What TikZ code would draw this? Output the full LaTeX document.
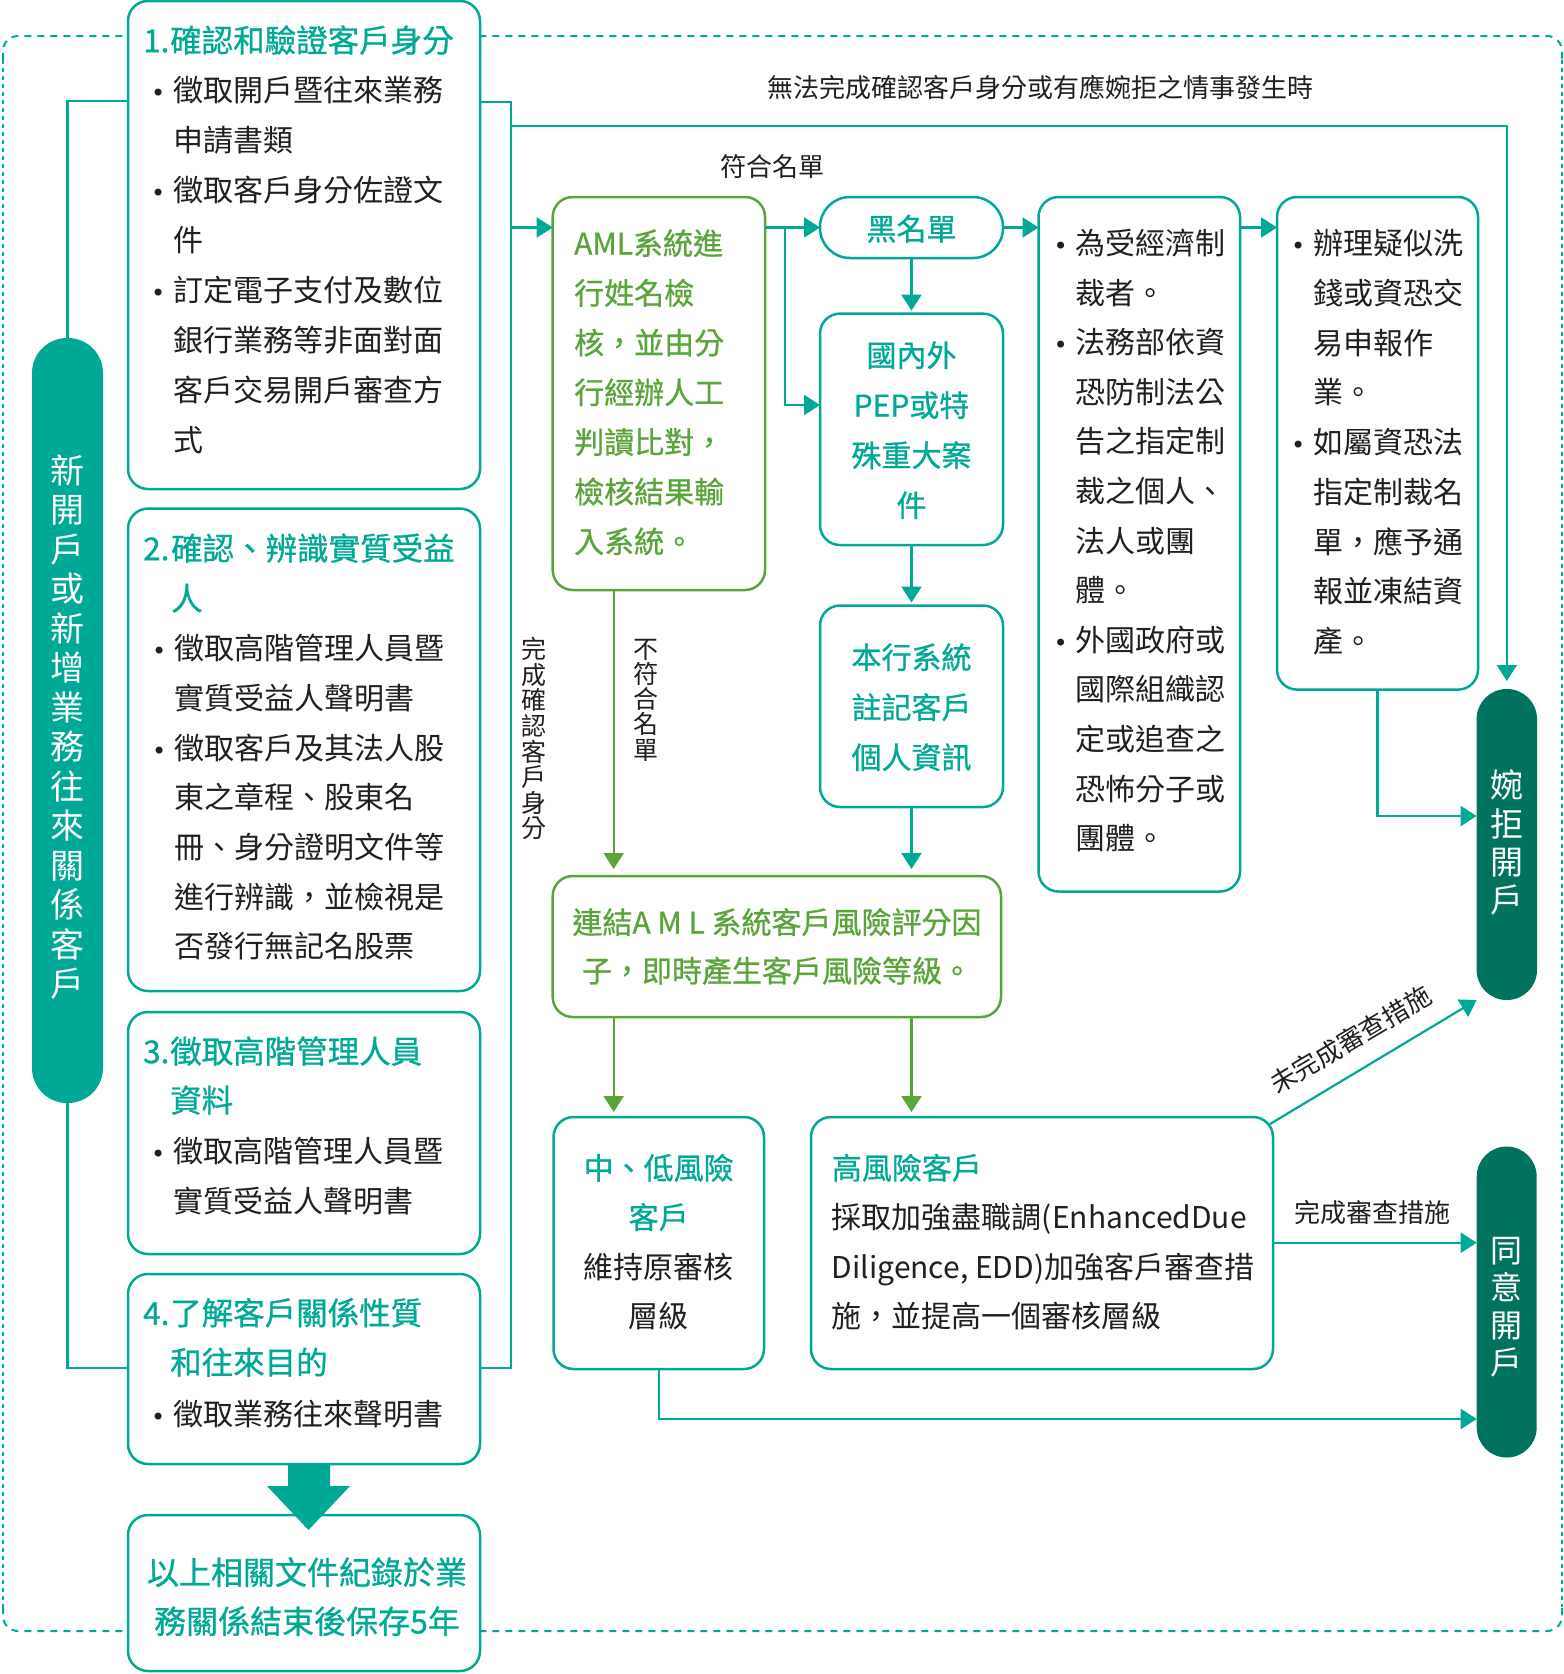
\documentclass[tikz,border=0pt]{standalone}
\usepackage{fontspec}
\setmainfont{Noto Sans CJK TC}
\newfontfamily\medfont[FakeBold=0.8]{Noto Sans CJK TC}
\newfontfamily\dv{DejaVu Sans}
\usetikzlibrary{arrows.meta,calc}
\definecolor{tl}{HTML}{00A896}
\definecolor{dk}{HTML}{00735F}
\definecolor{gr}{HTML}{5AA53B}
\definecolor{tx}{HTML}{231F20}
\newcommand{\tp}{\rule{0pt}{0.9em}}
\newcommand{\fs}[2]{\fontsize{#1}{#2}\selectfont}
\newcommand{\bl}{\llap{{\dv\fontsize{24}{24}\selectfont •}\hspace{8pt}}}
\begin{document}
\begin{tikzpicture}[x=1pt,y=-1pt,
 box/.style={draw=tl,line width=2.5pt,rounded corners=20pt,fill=white,inner sep=0pt,outer sep=0pt,anchor=north west},
 gbox/.style={box,draw=gr},
 pillbox/.style={fill=#1,draw=none,inner sep=0pt,outer sep=0pt,anchor=north west},
 ttl/.style={inner sep=0pt,anchor=north west,align=left,text=tl,font=\medfont\fs{31.5}{50}},
 body/.style={inner sep=0pt,anchor=north west,align=left,text=tx,font=\fs{30}{50}},
 ctext/.style={inner sep=0pt,anchor=north,align=center},
 lbl/.style={inner sep=0pt,text=tx,font=\fs{26}{26}},
 conn/.style={draw=tl,line width=2.2pt},
 arr/.style={conn,-{Triangle[length=16pt,width=20pt]}},
 garr/.style={draw=gr,line width=2.2pt,-{Triangle[length=16pt,width=20pt]}},
 hdash/.style={draw=tl,line width=2pt,dash pattern=on 7pt off 6pt,rounded corners=15pt},
 vdash/.style={draw=tl,line width=2pt,dash pattern=on 4pt off 4pt}
]
\useasboundingbox (0,0) rectangle (1564,1674);
% dotted frame
\draw[hdash] (3,60) -- (3,36) -- (1562,36) -- (1562,60);
\draw[hdash] (3,1607) -- (3,1631) -- (1562,1631) -- (1562,1607);
\draw[vdash] (3,60) -- (3,1607);
\draw[vdash] (1562,60) -- (1562,1607);
% boxes
\node[pillbox=tl,rounded corners=35pt,minimum width=71pt,minimum height=765pt] (pl) at (32,338) {};
\node[box,minimum width=352pt,minimum height=488pt] (b1) at (128,1) {};
\node[box,minimum width=352pt,minimum height=482.4pt] (b2) at (128,508.6) {};
\node[box,minimum width=352pt,minimum height=242pt] (b3) at (128,1012) {};
\node[box,minimum width=352pt,minimum height=190pt] (b4) at (128,1274) {};
\node[box,minimum width=352pt,minimum height=156pt] (b5) at (128,1515) {};
\node[gbox,minimum width=212.3pt,minimum height=393pt] (aml) at (552.7,197) {};
\node[box,rounded corners=30pt,minimum width=183pt,minimum height=61pt] (bl) at (820,197) {};
\node[box,minimum width=183pt,minimum height=231.4pt] (pep) at (820,313.6) {};
\node[box,minimum width=183pt,minimum height=201.5pt] (sys) at (820,605.5) {};
\node[box,minimum width=201.5pt,minimum height=694.5pt] (san) at (1038.5,197) {};
\node[box,minimum width=201pt,minimum height=492.6pt] (rep) at (1277,197) {};
\node[gbox,minimum width=448.3pt,minimum height=141pt] (risk) at (552.7,876) {};
\node[box,minimum width=210.5pt,minimum height=252pt] (ml) at (553.5,1117) {};
\node[box,minimum width=462pt,minimum height=252pt] (hi) at (811,1117) {};
\node[pillbox=dk,rounded corners=30pt,minimum width=60.4pt,minimum height=311pt] (rej) at (1476.6,689) {};
\node[pillbox=dk,rounded corners=30pt,minimum width=60pt,minimum height=311pt] (acc) at (1476.7,1146.5) {};
% connectors
\draw[conn] ([yshift=-100pt]b1.north west) -| (pl.north);
\draw[conn] ([yshift=-94pt]b4.north west) -| (pl.south);
\coordinate (busT) at (511,102);
\coordinate (busB) at (511,1368);
\draw[conn] (b1.east |- busT) -- (busT) -- (busB) -- (b4.east |- busB);
\coordinate (topL) at (511,126);
\draw[arr,shorten >=8pt] (topL) -| (rej.north);
\coordinate (amlIn) at ([yshift=-30.5pt]aml.north west);
\draw[arr] (busT |- amlIn) -- (amlIn);
\draw[arr] (aml.east |- bl.west) -- (bl.west);
\coordinate (br) at (785,227.5);
\coordinate (pepIn) at ([yshift=-91.4pt]pep.north west);
\draw[arr] (br) |- (pepIn);
\draw[arr,shorten >=3pt] (bl.south) -- (pep.north);
\draw[arr,shorten >=3pt] (pep.south) -- (sys.north);
\draw[arr,shorten >=7pt] (sys.south) -- (sys.south |- risk.north);
\draw[arr] (bl.east) -- (san.west |- bl.east);
\draw[arr] (san.east |- bl.east) -- (rep.west |- bl.east);
\coordinate (amlOut) at ([xshift=61pt]aml.south west);
\draw[garr,shorten >=7pt] (amlOut) -- (amlOut |- risk.north);
\draw[garr,shorten >=5pt] (amlOut |- risk.south) -- (amlOut |- ml.north);
\draw[garr,shorten >=5pt] (sys.south |- risk.south) -- (sys.south |- hi.north);
\coordinate (accIn2) at ([yshift=-272.5pt]acc.north west);
\draw[arr] (ml.south) |- (accIn2);
\coordinate (accIn1) at ([yshift=-96.2pt]acc.north west);
\draw[arr] (hi.east |- accIn1) -- (accIn1);
\draw[arr] ([xshift=-3pt,yshift=-7pt]hi.north east) -- (rej.south west);
\coordinate (rejIn) at ([yshift=-127pt]rej.north west);
\draw[arr] (rep.south) |- (rejIn);
% big arrow
\fill[tl] ([xshift=-16pt]b4.south) -- ++(0,22) -- ++(-21,0) -- ++(41.5,44) -- ++(41.5,-44) -- ++(-20,0) -- ++(0,-22) -- cycle;
% labels
\node[lbl] (lt) at (1040,87) {無法完成確認客戶身分或有應婉拒之情事發生時};
\node[lbl] (lm) at (772,167) {符合名單};
\node[lbl,align=center,anchor=north,font=\fs{25}{25.6}] (lv1) at (534.4,636) {\tp 完\\成\\確\\認\\客\\戶\\身\\分};
\node[lbl,align=center,anchor=north,font=\fs{25}{25.2}] (lv2) at (646,635.6) {\tp 不\\符\\合\\名\\單};
\node[lbl] (lc) at (1372,1213) {完成審查措施};
\node[lbl,rotate=30.8] (lu) at (1350.7,1039.7) {未完成審查措施};
% texts
\node[ttl] (t1) at (143,23.6) {\tp\makebox[27pt][l]{1.}確認和驗證客戶身分};
\node[body] (x1) at (173,74.4) {\tp\bl 徵取開戶暨往來業務\\申請書類\\\bl 徵取客戶身分佐證文\\件\\\bl 訂定電子支付及數位\\銀行業務等非面對面\\客戶交易開戶審查方\\式};
\node[ttl] (t2) at (143,531.6) {\tp\makebox[28pt][l]{2.}確認、辨識實質受益\\\hspace*{28pt}人};
\node[body,font=\fs{30}{49.7}] (x2) at (174,632.4) {\tp\bl 徵取高階管理人員暨\\實質受益人聲明書\\\bl 徵取客戶及其法人股\\東之章程、股東名\\冊、身分證明文件等\\進行辨識，並檢視是\\否發行無記名股票};
\node[ttl,font=\medfont\fs{31.5}{49}] (t3) at (143,1034.6) {\tp\makebox[27pt][l]{3.}徵取高階管理人員\\\hspace*{27pt}資料};
\node[body] (x3) at (173,1135.4) {\tp\bl 徵取高階管理人員暨\\實質受益人聲明書};
\node[ttl,font=\medfont\fs{31.5}{49.5}] (t4) at (143,1296.2) {\tp\makebox[27pt][l]{4.}了解客戶關係性質\\\hspace*{27pt}和往來目的};
\node[body] (x4) at (173,1398) {\tp\bl 徵取業務往來聲明書};
\node[ctext,text=tl,font=\medfont\fs{32}{49}] (x5) at (307,1555.4) {\tp 以上相關文件紀錄於業\\務關係結束後保存5年};
\node[body,text=gr,font=\medfont\fs{30}{49.7}] (xa) at (574,227.4) {\tp AML系統進\\行姓名檢\\核，並由分\\行經辦人工\\判讀比對，\\檢核結果輸\\入系統。};
\node[ctext,text=tl,font=\medfont\fs{30}{50}] (xb) at (911.5,212.9) {\tp 黑名單};
\node[ctext,text=tl,font=\medfont\fs{30}{50}] (xp) at (911.5,339.4) {\tp 國內外\\PEP或特\\殊重大案\\件};
\node[ctext,text=tl,font=\medfont\fs{30}{50}] (xsy) at (911.5,641.4) {\tp 本行系統\\註記客戶\\個人資訊};
\node[body,font=\fs{30}{49.6}] (xs) at (1075.5,227.2) {\tp\bl 為受經濟制\\裁者。\\\bl 法務部依資\\恐防制法公\\告之指定制\\裁之個人、\\法人或團\\體。\\\bl 外國政府或\\國際組織認\\定或追查之\\恐怖分子或\\團體。};
\node[body,font=\fs{30}{49.75}] (xrp) at (1313,227.4) {\tp\bl 辦理疑似洗\\錢或資恐交\\易申報作\\業。\\\bl 如屬資恐法\\指定制裁名\\單，應予通\\報並凍結資\\產。};
\node[ctext,text=gr,font=\medfont\fs{30}{48.5}] (xr) at (777,906.4) {\tp 連結A M L 系統客戶風險評分因\\子，即時產生客戶風險等級。};
\node[ctext,text=tl,font=\medfont\fs{30}{49.3}] (xmt) at (658.7,1152.1) {\tp 中、低風險\\客戶};
\node[ctext,text=tx,font=\fs{30}{49.5}] (xmb) at (658.7,1250.9) {\tp 維持原審核\\層級};
\node[body,text=tl,font=\medfont\fs{30}{50}] (xht) at (831.7,1152.1) {\tp 高風險客戶};
\node[body,font=\fs{30}{49.5}] (xhb) at (831.7,1201.4) {\tp 採取加強盡職調(EnhancedDue\\Diligence, EDD)加強客戶審查措\\施，並提高一個審核層級};
\node[ctext,text=white,font=\fs{34}{39.5}] (xpl) at (67.5,452.3) {\tp 新\\開\\戶\\或\\新\\增\\業\\務\\往\\來\\關\\係\\客\\戶};
\node[ctext,text=white,font=\fs{33}{38.3}] (xrej) at (1506.8,767.8) {\tp 婉\\拒\\開\\戶};
\node[ctext,text=white,font=\fs{32}{37.3}] (xacc) at (1506.7,1233.4) {\tp 同\\意\\開\\戶};
\end{tikzpicture}
\end{document}
